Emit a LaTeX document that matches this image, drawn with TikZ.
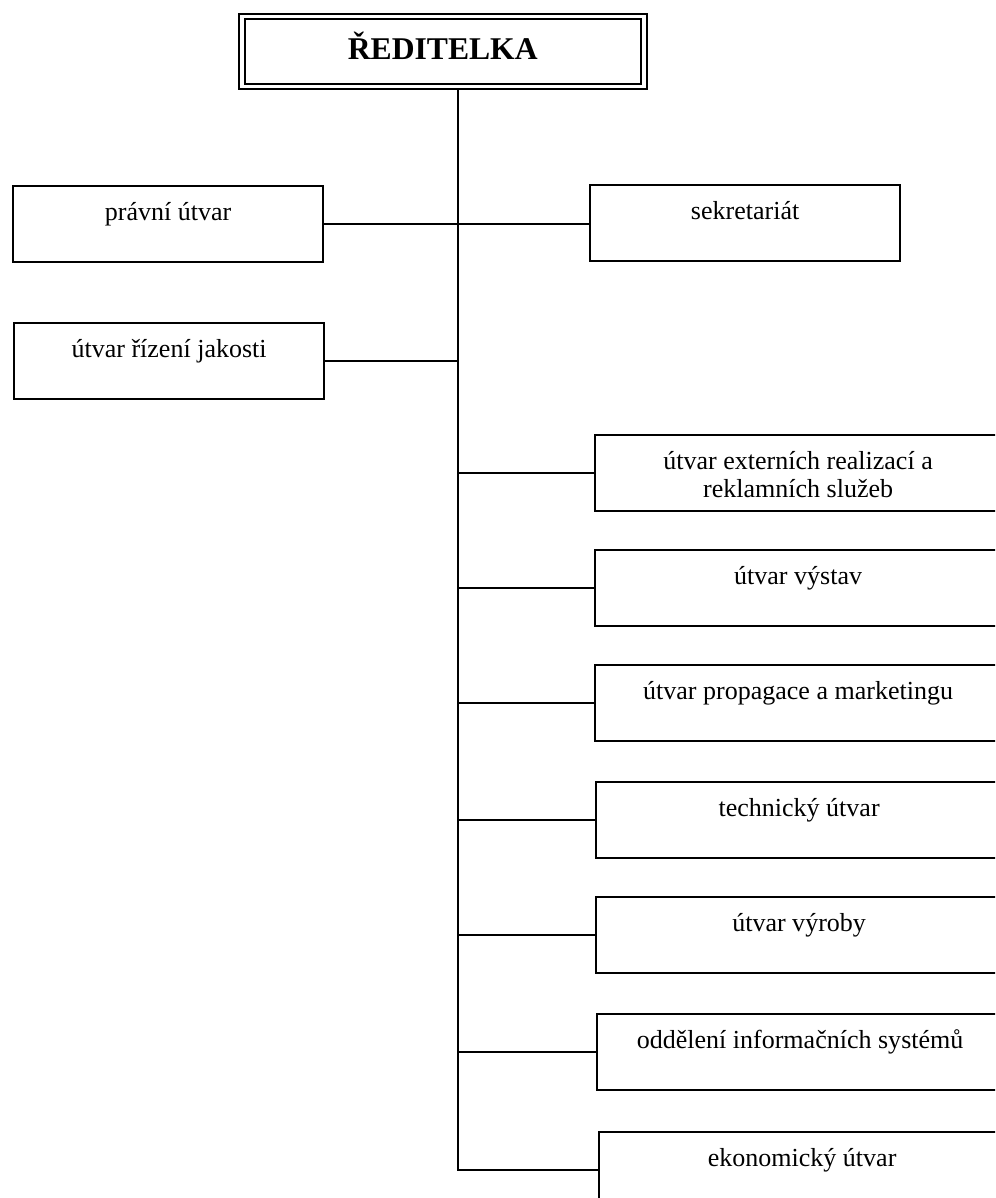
\documentclass[tikz,border=0pt]{standalone}
\usepackage{fontspec}
\setmainfont{Liberation Serif}

\tikzset{
  unit/.style={draw, line width=1.5pt, inner sep=0pt, anchor=north west,
    text height=0.85cm, text depth=1.05cm, font=\fontsize{18.5}{20}\selectfont},
  leftunit/.style={unit, minimum width=7.75cm},
  rightunit/.style={unit, text width=10.15cm, align=flush center},
  branch/.style={line width=1pt}
}

\begin{document}
\begin{tikzpicture}[x=0.025cm, y=-0.025cm]
  \useasboundingbox (0,0) rectangle (995,1198);
  \clip (0,0) rectangle (995,1198);
  % Head of the organisation.
  \node[draw, double, line width=1.4pt, double distance=2.8pt, outer sep=2.8pt,
    minimum width=10.04cm, minimum height=1.75cm, inner sep=0pt,
    text height=0.6cm, text depth=0.2cm,
    font=\fontsize{22.5}{26}\selectfont\bfseries] (reditelka) at (442.75,51.5) {ŘEDITELKA};
  \coordinate (kmen) at (458,0);
  % Staff units.
  \node[leftunit] (pravni) at (12,185) {právní útvar};
  \node[leftunit] (jakost) at (13,322) {útvar řízení jakosti};
  \node[leftunit] (sekretariat) at (589,184) {sekretariát};
  % Line units.
  \node[rightunit] (externi) at (594,434) {útvar externích realizací a\\reklamních služeb};
  \node[rightunit] (vystavy) at (594,549) {útvar výstav};
  \node[rightunit] (propagace) at (594,664) {útvar propagace a marketingu};
  \node[rightunit] (technicky) at (595,781) {technický útvar};
  \node[rightunit] (vyroba) at (595,896) {útvar výroby};
  \node[rightunit] (informatika) at (596,1013) {oddělení informačních systémů};
  \node[rightunit] (ekonomicky) at (598,1131) {ekonomický útvar};
  % Connectors.
  \draw[branch] (reditelka.south -| kmen) -- (ekonomicky.west -| kmen) -- (ekonomicky.west);
  \draw[branch] (pravni.east) -- (pravni.east -| sekretariat.west);
  \draw[branch] (jakost.east) -- (jakost.east -| kmen);
  \draw[branch] (externi.west -| kmen) -- (externi.west);
  \draw[branch] (vystavy.west -| kmen) -- (vystavy.west);
  \draw[branch] (propagace.west -| kmen) -- (propagace.west);
  \draw[branch] (technicky.west -| kmen) -- (technicky.west);
  \draw[branch] (vyroba.west -| kmen) -- (vyroba.west);
  \draw[branch] (informatika.west -| kmen) -- (informatika.west);
\end{tikzpicture}
\end{document}
